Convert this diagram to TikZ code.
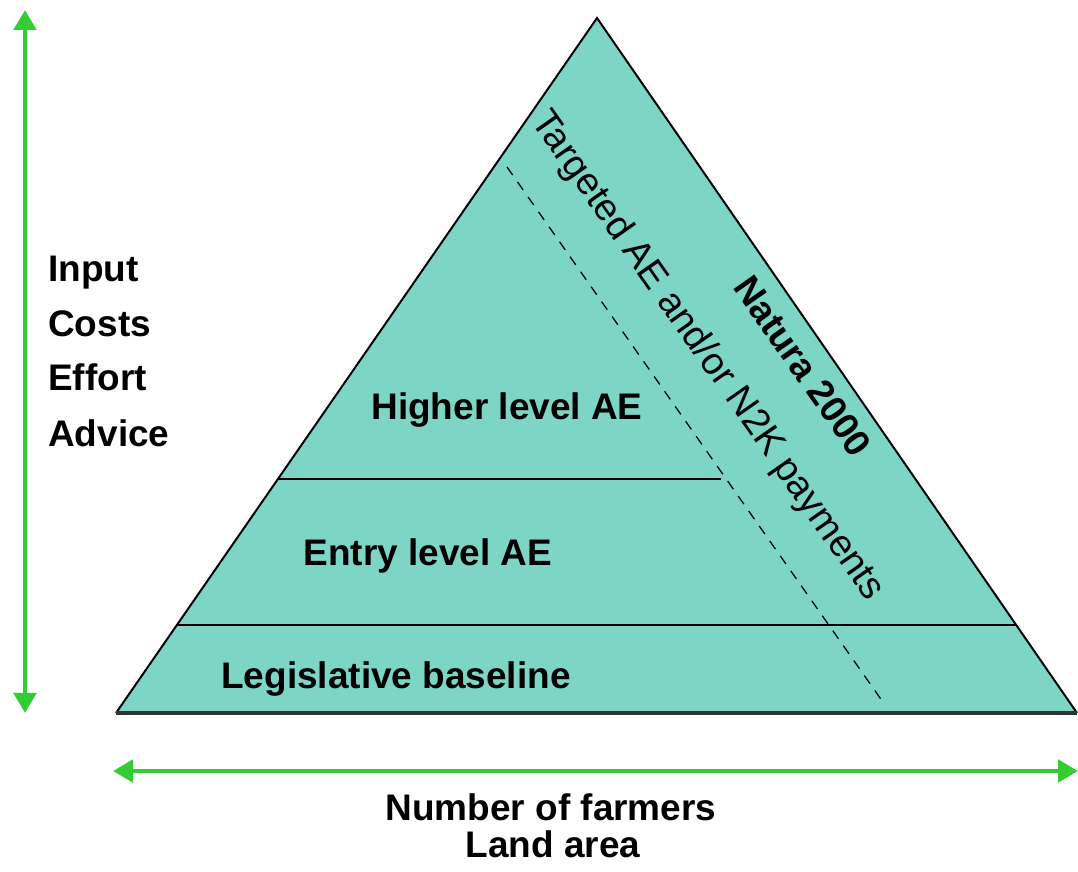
\documentclass[tikz,border=0pt]{standalone}
\usepackage{fontspec}
\setmainfont{Liberation Sans}
\usepackage{tikz}
\usetikzlibrary{arrows.meta}

\definecolor{pyramid}{RGB}{125,213,197}
\definecolor{axisgreen}{RGB}{51,204,51}

\begin{document}
\begin{tikzpicture}[
  x=0.025cm,y=-0.025cm,
  boldtext/.style={font=\fontsize{26.3}{30}\selectfont\bfseries,inner sep=0pt,anchor=base},
  ]
  \tikzset{%
    axis arrow/.style={
      draw=axisgreen,
      line width=3.5pt,
      {Triangle[width=0.55cm,length=0.5cm]}-{Triangle[width=0.55cm,length=0.5cm]},
    },
    slanted/.style={
      inner sep=0pt,
      rotate=-55,
    },
  }
  \useasboundingbox (0,0) rectangle (1078,872);
  %Corners
  \coordinate (top) at (597,18);
  \coordinate (bl) at (116,713);
  \coordinate (br) at (1077,713);
  \coordinate (h1) at (278,479);
  \coordinate (h2) at (721,479);
  \coordinate (e1) at (177,625);
  \coordinate (e2) at (1016,625);
  \coordinate (d1) at (507,167);
  \coordinate (d2) at (885,705);
  \coordinate (vtop) at (25,10);
  \coordinate (vbot) at (25,713);
  \coordinate (hleft) at (113,771);
  \coordinate (hright) at (1078,771);
  %Pyramid
  \fill[pyramid] (top) -- (br) -- (bl) -- cycle;
  \draw[line width=1.4pt, line join=miter] (bl) -- (top) -- (br);
  \draw[line width=1.2pt] (h1) -- (h2);
  \draw[line width=1.2pt] (e1) -- (e2);
  \draw[line width=0.9pt, dash pattern=on 7pt off 6pt] (d1) -- (d2);
  \draw[line width=3pt, color=black!80] (bl) -- (br);
  %Nodes
  \node[boldtext] (higher) at (507,420) {Higher level AE};
  \node[boldtext] (entry) at (428,565) {Entry level AE};
  \node[boldtext] (legis) at (396,688) {Legislative baseline};
  \node[slanted, font=\fontsize{27}{30}\selectfont] (target) at (707,356) {Targeted AE and/or N2K payments};
  \node[slanted, font=\fontsize{26.3}{30}\selectfont\bfseries] (natura) at (803,366) {Natura 2000};
  \node[boldtext, anchor=base west] (input) at (48,282) {Input};
  \node[boldtext, anchor=base west] (costs) at (48,337) {Costs};
  \node[boldtext, anchor=base west] (effort) at (48,391) {Effort};
  \node[boldtext, anchor=base west] (advice) at (48,446) {Advice};
  \node[boldtext] (farmers) at (551,820) {Number of farmers};
  \node[boldtext] (land) at (553,857) {Land area};
  %Arrows
  \draw[axis arrow] (vtop) -- (vbot);
  \draw[axis arrow] (hleft) -- (hright);
\end{tikzpicture}
\end{document}
